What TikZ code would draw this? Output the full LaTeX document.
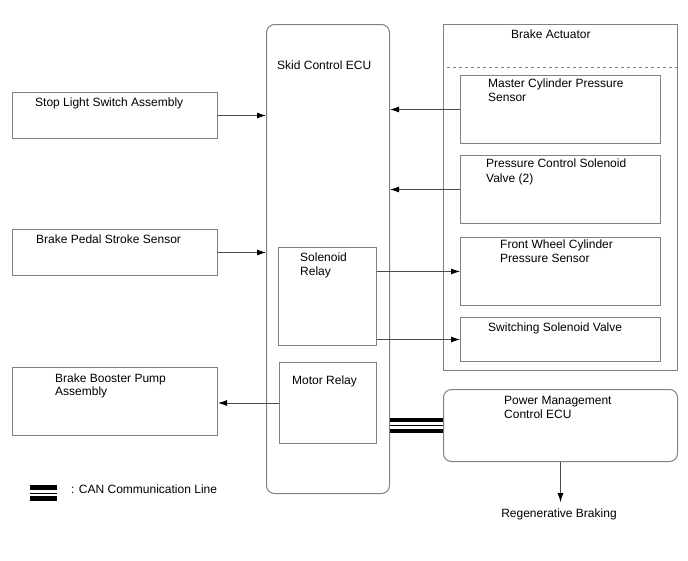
\documentclass[tikz,border=0pt]{standalone}
\usepackage{fontspec}
\setmainfont{Liberation Sans}
\usetikzlibrary{arrows.meta}
\begin{document}
\begin{tikzpicture}[x=1pt,y=-1pt,
    >={Latex[length=9pt,width=6pt,color=black]},
    box/.style={draw=black!50,line width=1pt,anchor=north west,inner sep=0pt},
    rbox/.style={box,rounded corners=8pt},
    txt/.style={anchor=base west,inner sep=0pt,font=\fontsize{12}{14}\selectfont},
    wire/.style={->,draw=black!70,line width=0.9pt},
    can/.style={line width=4.5pt,double=white,double distance=6.5pt}]
    \useasboundingbox (0,0) rectangle (688,560);
    % ECU and actuator
    \node[rbox,minimum width=123pt,minimum height=469pt] (ecu) at (266,24) {};
    \node[box,minimum width=234pt,minimum height=346pt] (act) at (443,24) {};
    \draw[black!50,dashed,line width=0.8pt] (447,67) -- (act.east |- 0,67);
    \node[box,minimum width=200pt,minimum height=68pt] (mcs) at (460,75) {};
    \node[box,minimum width=200pt,minimum height=68pt] (pcv) at (460,155) {};
    \node[box,minimum width=200pt,minimum height=68pt] (fws) at (460,237) {};
    \node[box,minimum width=200pt,minimum height=44pt] (ssv) at (460,317) {};
    \node[box,minimum width=98pt,minimum height=98pt] (sol) at (278,247) {};
    \node[box,minimum width=97pt,minimum height=81pt] (mot) at (279,362) {};
    % outer parts
    \node[box,minimum width=205pt,minimum height=46pt] (stop) at (12,92) {};
    \node[box,minimum width=205pt,minimum height=46pt] (pedal) at (12,229) {};
    \node[box,minimum width=205pt,minimum height=68pt] (boost) at (12,367) {};
    \node[rbox,minimum width=234pt,minimum height=72pt] (pm) at (443,389) {};
    % texts
    \node[txt] (tecu) at (277,69) {Skid Control ECU};
    \node[txt] (tact) at (511,38) {Brake Actuator};
    \node[txt] (tmcs) at (488,87) {Master Cylinder Pressure};
    \node[txt] (tmcs2) at (488,101) {Sensor};
    \node[txt] (tpcv) at (486,167) {Pressure Control Solenoid};
    \node[txt] (tpcv2) at (486,182) {Valve (2)};
    \node[txt] (tfws) at (500,248) {Front Wheel Cylinder};
    \node[txt] (tfws2) at (500,262) {Pressure Sensor};
    \node[txt] (tssv) at (488,331) {Switching Solenoid Valve};
    \node[txt] (tsol) at (300,261) {Solenoid};
    \node[txt] (tsol2) at (300,275) {Relay};
    \node[txt] (tmot) at (292,384) {Motor Relay};
    \node[txt] (tstop) at (35,106) {Stop Light Switch Assembly};
    \node[txt] (tpedal) at (36,243) {Brake Pedal Stroke Sensor};
    \node[txt] (tboost) at (55,382) {Brake Booster Pump};
    \node[txt] (tboost2) at (55,395) {Assembly};
    \node[txt] (tpm) at (504,404) {Power Management};
    \node[txt] (tpm2) at (504,418) {Control ECU};
    \node[txt,anchor=base] (regen) at (559,517) {Regenerative Braking};
    \node[txt] (tleg) at (71,493) {: CAN Communication Line};
    % connections
    \draw[wire] (stop.east) -- (ecu.west |- stop.east);
    \draw[wire] (pedal.east) -- (ecu.west |- pedal.east);
    \draw[wire] (mcs.west) -- (ecu.east |- mcs.west);
    \draw[wire] (pcv.west) -- (ecu.east |- pcv.west);
    \draw[wire] (sol.east |- fws.west) -- (fws.west);
    \draw[wire] (sol.east |- ssv.west) -- (ssv.west);
    \draw[wire] (mot.west) -- (boost.east |- mot.west);
    \draw[wire,shorten >=6pt] (pm.south) -- (pm.south |- regen.north);
    % CAN line and legend
    \draw[can] (ecu.east |- pm.west) -- (pm.west);
    \draw[line width=1pt] (ecu.east |- pm.west) -- (pm.west);
    \coordinate (leg) at (30,493);
    \draw[can] (leg) -- ++(27,0);
    \draw[line width=1pt] (leg) -- ++(27,0);
\end{tikzpicture}
\end{document}
